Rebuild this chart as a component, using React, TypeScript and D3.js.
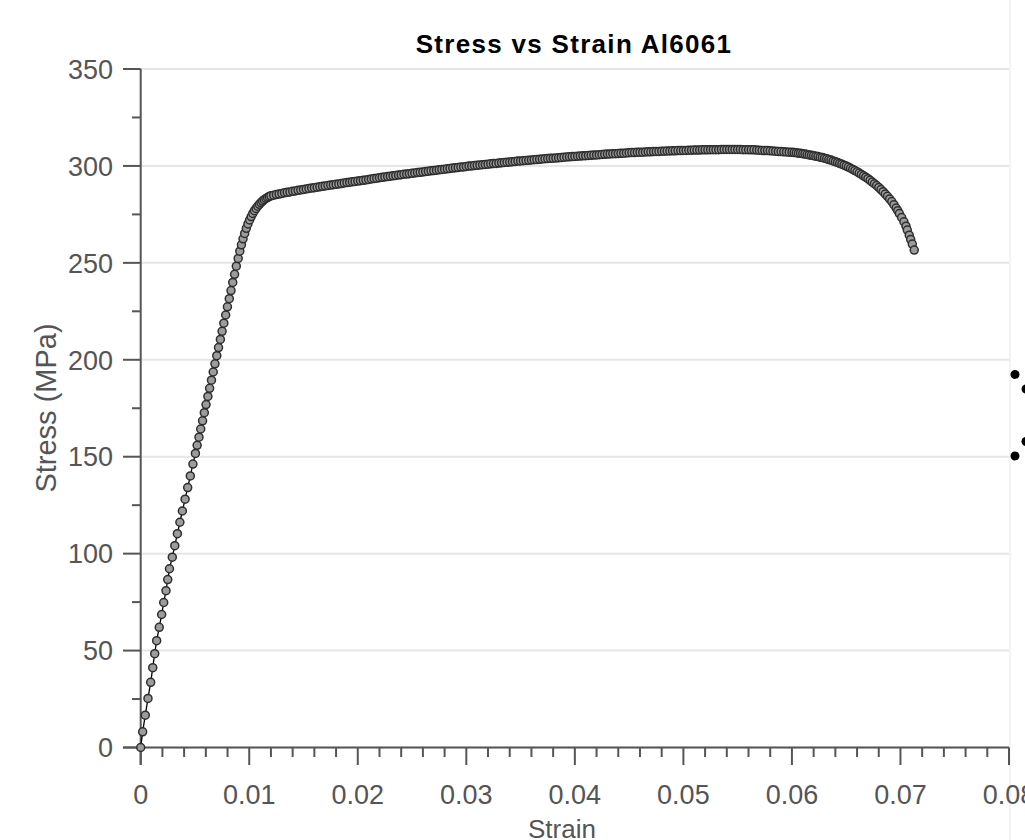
import React from "react";
import * as d3 from "d3";

// ---- Data (strain, stress in MPa) ----
const elasticStrain = [
  0, 0.00018, 0.00042, 0.00067, 0.00092, 0.00111, 0.00129, 0.00147, 0.00171, 0.00193,
  0.00212, 0.00233, 0.00249, 0.00265, 0.00291, 0.00314, 0.00338, 0.00361, 0.00384, 0.00409,
  0.00433, 0.00457, 0.00481, 0.00504, 0.0052, 0.00537, 0.00553, 0.0057, 0.00586, 0.00602,
  0.00619, 0.00635, 0.00652, 0.00668, 0.00684, 0.00701, 0.00717, 0.00734, 0.0075, 0.00766,
  0.00783, 0.00799, 0.00816, 0.00832, 0.00848, 0.00865, 0.00881, 0.00898,
];
const elasticStress = [
  0, 8.1, 16.7, 25.3, 33.6, 41.2, 48.4, 55.1, 62.0, 68.6,
  74.8, 80.9, 86.6, 92.2, 98.2, 104.1, 110.3, 116.2, 122.0, 128.1,
  134.1, 140.1, 146.2, 151.7, 155.9, 160.1, 164.3, 168.5, 172.7, 176.9,
  181.1, 185.3, 189.5, 193.7, 197.9, 202.1, 206.3, 210.5, 214.7, 218.9,
  223.1, 227.3, 231.5, 235.7, 239.9, 244.1, 248.3, 252.3,
];

const kneeStrain = [
  0.00913, 0.00928, 0.00943, 0.00958, 0.00973, 0.00988, 0.01003, 0.01018, 0.01033, 0.01048,
  0.01063, 0.01078, 0.01093, 0.01108, 0.01123, 0.01138, 0.01153, 0.01168, 0.01183, 0.012,
];
const kneeStress = [
  256.0, 259.3, 262.4, 265.2, 267.8, 270.1, 272.1, 273.9, 275.5, 276.9,
  278.1, 279.2, 280.2, 281.1, 281.9, 282.6, 283.2, 283.7, 284.2, 284.6,
];

const plasticStrain = [
  0.01225, 0.0125, 0.01275,
  0.013, 0.01325, 0.0135, 0.01375, 0.014, 0.01425, 0.0145, 0.01475,
  0.015, 0.01525, 0.0155, 0.01575, 0.016, 0.01625, 0.0165, 0.01675,
  0.017, 0.01725, 0.0175, 0.01775, 0.018, 0.01825, 0.0185, 0.01875,
  0.019, 0.01925, 0.0195, 0.01975, 0.02, 0.02025, 0.0205, 0.02075,
  0.021, 0.02125, 0.0215, 0.02175, 0.022, 0.02225, 0.0225, 0.02275,
  0.023, 0.02325, 0.0235, 0.02375, 0.024, 0.02425, 0.0245, 0.02475,
  0.025, 0.02525, 0.0255, 0.02575, 0.026, 0.02625, 0.0265, 0.02675,
  0.027, 0.02725, 0.0275, 0.02775, 0.028, 0.02825, 0.0285, 0.02875,
  0.029, 0.02925, 0.0295, 0.02975, 0.03, 0.03025, 0.0305, 0.03075,
  0.031, 0.03125, 0.0315, 0.03175, 0.032, 0.03225, 0.0325, 0.03275,
  0.033, 0.03325, 0.0335, 0.03375, 0.034, 0.03425, 0.0345, 0.03475,
  0.035, 0.03525, 0.0355, 0.03575, 0.036, 0.03625, 0.0365, 0.03675,
  0.037, 0.03725, 0.0375, 0.03775, 0.038, 0.03825, 0.0385, 0.03875,
  0.039, 0.03925, 0.0395, 0.03975, 0.04, 0.04025, 0.0405, 0.04075,
  0.041, 0.04125, 0.0415, 0.04175, 0.042, 0.04225, 0.0425, 0.04275,
  0.043, 0.04325, 0.0435, 0.04375, 0.044, 0.04425, 0.0445, 0.04475,
  0.045, 0.04525, 0.0455, 0.04575, 0.046, 0.04625, 0.0465, 0.04675,
  0.047, 0.04725, 0.0475, 0.04775, 0.048, 0.04825, 0.0485, 0.04875,
  0.049, 0.04925, 0.0495, 0.04975, 0.05, 0.05025, 0.0505, 0.05075,
  0.051, 0.05125, 0.0515, 0.05175, 0.052, 0.05225, 0.0525, 0.05275,
  0.053, 0.05325, 0.0535, 0.05375, 0.054, 0.05425, 0.0545, 0.05475,
  0.055, 0.05525, 0.0555, 0.05575, 0.056, 0.05625, 0.0565, 0.05675,
  0.057, 0.05725, 0.0575, 0.05775, 0.058, 0.05825, 0.0585, 0.05875,
  0.059, 0.05925, 0.0595, 0.05975, 0.06,
];
const plasticStress = [
  284.9, 285.2, 285.5,
  285.8, 286.1, 286.4, 286.6, 286.9, 287.1, 287.4, 287.6,
  287.9, 288.1, 288.4, 288.6, 288.8, 289.0, 289.2, 289.5,
  289.7, 289.9, 290.1, 290.3, 290.5, 290.7, 290.9, 291.2,
  291.4, 291.6, 291.8, 292.0, 292.2, 292.4, 292.6, 292.8,
  293.0, 293.3, 293.5, 293.7, 293.9, 294.1, 294.3, 294.5,
  294.7, 294.9, 295.1, 295.3, 295.5, 295.7, 295.8, 296.0,
  296.2, 296.4, 296.6, 296.7, 296.9, 297.1, 297.3, 297.5,
  297.6, 297.8, 298.0, 298.2, 298.3, 298.5, 298.7, 298.9,
  299.0, 299.2, 299.4, 299.5, 299.7, 299.9, 300.0, 300.2,
  300.3, 300.5, 300.6, 300.8, 300.9, 301.1, 301.2, 301.3,
  301.5, 301.6, 301.8, 301.9, 302.0, 302.2, 302.3, 302.5,
  302.6, 302.7, 302.8, 302.9, 303.1, 303.2, 303.3, 303.4,
  303.6, 303.7, 303.8, 303.9, 304.0, 304.1, 304.2, 304.4,
  304.5, 304.6, 304.7, 304.8, 304.9, 305.0, 305.1, 305.2,
  305.3, 305.4, 305.5, 305.6, 305.7, 305.8, 305.9, 306.0,
  306.1, 306.2, 306.3, 306.3, 306.4, 306.5, 306.6, 306.7,
  306.8, 306.9, 306.9, 307.0, 307.1, 307.1, 307.2, 307.3,
  307.3, 307.4, 307.5, 307.5, 307.6, 307.6, 307.7, 307.7,
  307.8, 307.8, 307.9, 307.9, 308.0, 308.0, 308.1, 308.1,
  308.2, 308.2, 308.2, 308.3, 308.3, 308.3, 308.4, 308.4,
  308.4, 308.4, 308.5, 308.5, 308.5, 308.5, 308.5, 308.5,
  308.5, 308.5, 308.4, 308.4, 308.4, 308.3, 308.3, 308.2,
  308.1, 308.0, 307.9, 307.9, 307.8, 307.7, 307.6, 307.5,
  307.4, 307.3, 307.2, 307.1, 307.0,
];

const neckingStrain = [
  0.0602, 0.0604, 0.0606, 0.0608, 0.061, 0.0612, 0.0614, 0.0616, 0.0618, 0.062,
  0.0622, 0.0624, 0.0626, 0.0628, 0.063, 0.0632, 0.0634, 0.0636, 0.0638, 0.064,
  0.0642, 0.0644, 0.0646, 0.0648, 0.065, 0.0652, 0.0654, 0.0656, 0.0658, 0.066,
  0.0662, 0.0664, 0.0666, 0.0668, 0.067, 0.0672, 0.0674, 0.0676, 0.0678, 0.068,
  0.0682, 0.0684, 0.0686, 0.0688, 0.069, 0.0692, 0.0694, 0.0696, 0.06975, 0.0699,
  0.07011, 0.07032, 0.07051, 0.07063, 0.07081, 0.07094, 0.07109, 0.07127,
];
const neckingStress = [
  306.9, 306.8, 306.6, 306.5, 306.3, 306.1, 305.9, 305.7, 305.5, 305.3,
  305.0, 304.8, 304.5, 304.3, 304.0, 303.7, 303.3, 303.0, 302.6, 302.2,
  301.8, 301.3, 300.9, 300.4, 299.9, 299.4, 298.8, 298.2, 297.6, 297.0,
  296.3, 295.6, 294.9, 294.2, 293.4, 292.6, 291.7, 290.8, 289.9, 288.9,
  287.8, 286.7, 285.5, 284.3, 283.0, 281.6, 280.0, 278.3, 276.9, 275.4,
  273.4, 271.2, 268.9, 266.9, 264.3, 262.1, 259.7, 256.6,
];

const xTicks = [0, 0.01, 0.02, 0.03, 0.04, 0.05, 0.06, 0.07, 0.08];
const xTickLabels = ["0", "0.01", "0.02", "0.03", "0.04", "0.05", "0.06", "0.07", "0.08"];
const yTicks = [0, 50, 100, 150, 200, 250, 300, 350];
const yTickLabels = ["0", "50", "100", "150", "200", "250", "300", "350"];

const titleText = "Stress vs Strain Al6061";
const xAxisTitle = "Strain";
const yAxisTitle = "Stress (MPa)";

const FONT = "'Liberation Sans', Arial, Helvetica, sans-serif";

export default function App() {
  const W = 1025;
  const H = 840;
  const x = d3.scaleLinear().domain([0, 0.08]).range([140.7, 1009]);
  const y = d3.scaleLinear().domain([0, 350]).range([747.5, 69]);

  const strain = [...elasticStrain, ...kneeStrain, ...plasticStrain, ...neckingStrain];
  const stress = [...elasticStress, ...kneeStress, ...plasticStress, ...neckingStress];
  const data = strain.map((s, i) => ({ s, v: stress[i] }));

  const line = d3
    .line<{ s: number; v: number }>()
    .x((d) => x(d.s))
    .y((d) => y(d.v));

  const xMinor = d3.range(0, 0.0801, 0.002).filter((v) => Math.abs(v / 0.01 - Math.round(v / 0.01)) > 1e-6);
  const yMinor = d3.range(25, 350, 50);

  const axisColor = "#555";
  const labelColor = "#555";

  return (
    <svg
      width={W}
      height={H}
      style={{ position: "absolute", left: 0, top: 0, background: "#fff" }}
      fontFamily={FONT}
    >
      <rect x={0} y={0} width={W} height={H} fill="#fff" />
      {/* gridlines */}
      {yTicks.map((t) => (
        <line key={"g" + t} x1={x(0)} x2={x(0.08)} y1={y(t)} y2={y(t)} stroke="#e6e6e6" strokeWidth={2} />
      ))}
      <line x1={1010} x2={1010} y1={0} y2={H} stroke="#efefef" strokeWidth={1.5} />

      {/* title */}
      <text x={574} y={53} textAnchor="middle" fontSize={26} fontWeight="bold" fill="#000" letterSpacing={1.3}>
        {titleText}
      </text>

      {/* y axis */}
      <line x1={x(0)} x2={x(0)} y1={y(350)} y2={765} stroke={axisColor} strokeWidth={2} />
      {yTicks.map((t, i) => (
        <g key={"yt" + t}>
          <line x1={123} x2={x(0)} y1={y(t)} y2={y(t)} stroke={axisColor} strokeWidth={2} />
          <text x={113} y={y(t)} dy="0.36em" textAnchor="end" fontSize={27} fill={labelColor}>
            {yTickLabels[i]}
          </text>
        </g>
      ))}
      {yMinor.map((t) => (
        <line key={"ym" + t} x1={132} x2={x(0)} y1={y(t)} y2={y(t)} stroke={axisColor} strokeWidth={2} />
      ))}

      {/* x axis */}
      <line x1={123} x2={x(0.08)} y1={y(0)} y2={y(0)} stroke={axisColor} strokeWidth={2} />
      {xTicks.map((t, i) => (
        <g key={"xt" + t}>
          <line x1={x(t)} x2={x(t)} y1={y(0)} y2={765} stroke={axisColor} strokeWidth={2} />
          <text x={x(t)} y={804} textAnchor="middle" fontSize={27} fill={labelColor}>
            {xTickLabels[i]}
          </text>
        </g>
      ))}
      {xMinor.map((t) => (
        <line key={"xm" + t} x1={x(t)} x2={x(t)} y1={y(0)} y2={757} stroke={axisColor} strokeWidth={2} />
      ))}

      {/* axis titles */}
      <text x={562} y={838} textAnchor="middle" fontSize={26} fill={labelColor}>
        {xAxisTitle}
      </text>
      <text
        transform={`translate(56, 408) rotate(-90)`}
        textAnchor="middle"
        fontSize={29}
        fill={labelColor}
      >
        {yAxisTitle}
      </text>

      {/* data line */}
      <path d={line(data) || ""} fill="none" stroke="#000" strokeWidth={1.3} />
      {data.map((d, i) => (
        <circle key={i} cx={x(d.s)} cy={y(d.v)} r={4} fill="#9c9c9c" stroke="#2e2e2e" strokeWidth={1.5} />
      ))}

      {/* edge dots */}
      <circle cx={1015} cy={374.5} r={4.5} fill="#000" />
      <circle cx={1026} cy={389} r={4.5} fill="#000" />
      <circle cx={1026} cy={441.5} r={4.5} fill="#000" />
      <circle cx={1015} cy={456} r={4.5} fill="#000" />
    </svg>
  );
}
